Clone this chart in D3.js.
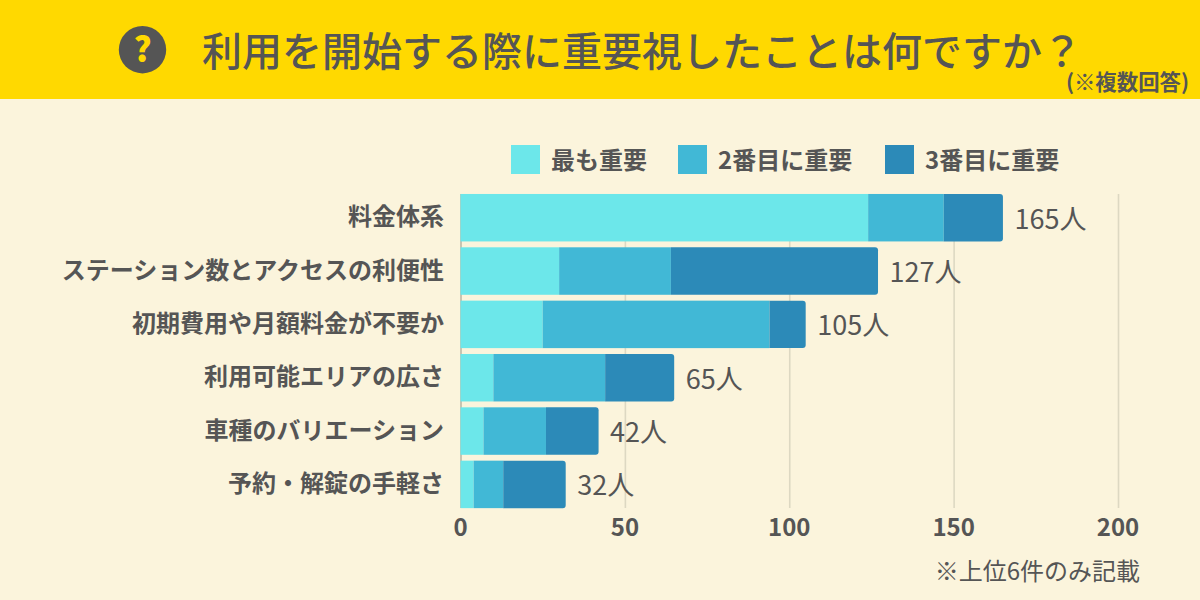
<!DOCTYPE html>
<html><head><meta charset="utf-8">
<script src="https://cdn.jsdelivr.net/npm/d3@7"></script>
<style>
html,body{margin:0;padding:0;background:#FBF4DC}
svg{display:block}
text{font-family:"Noto Sans CJK JP","Noto Sans",sans-serif;fill:#555555}
</style></head><body>
<svg id="c" width="1200" height="600"></svg>
<script>
const titleText = "利用を開始する際に重要視したことは何ですか？";
const subtitleText = "(※複数回答)";
const noteText = "※上位6件のみ記載";
const unit = "人";
const categories = ["料金体系","ステーション数とアクセスの利便性","初期費用や月額料金が不要か","利用可能エリアの広さ","車種のバリエーション","予約・解錠の手軽さ"];
const seriesNames = ["最も重要","2番目に重要","3番目に重要"];
const first = [124,30,25,10,7,4];
const second = [23,34,69,34,19,9];
const third = [18,63,11,21,16,19];
const colors = ["#6CE7EA","#41B8D6","#2C8AB8"];
const ticks = [0,50,100,150,200];

const svg = d3.select("#c");
svg.append("rect").attr("width",1200).attr("height",600).attr("fill","#FBF4DC");
svg.append("rect").attr("width",1200).attr("height",99).attr("fill","#FFD900");

// icon
svg.append("circle").attr("cx",142.5).attr("cy",49.7).attr("r",23.7).attr("fill","#555555");
svg.append("text").attr("x",142.5).attr("y",62).attr("text-anchor","middle")
  .attr("font-size",34).attr("font-weight",900).style("fill","#FFD900").text("?");

svg.append("text").attr("x",202).attr("y",66).attr("font-size",40).attr("font-weight",500).text(titleText);
svg.append("text").attr("x",1189).attr("y",90).attr("text-anchor","end")
  .attr("font-size",21.4).attr("font-weight",700).text(subtitleText);

const x = d3.scaleLinear().domain([0,200]).range([460.5,1118]);
const y = d3.scaleBand().domain(categories).range([191.3,510.8]).paddingInner(0.11).paddingOuter(0.05);

// grid
const gridG = svg.append("g").attr("transform","translate(0,508)")
  .call(d3.axisBottom(x).tickValues(ticks).tickSize(-314).tickPadding(11).tickFormat(d3.format("d")));
gridG.select(".domain").remove();
gridG.selectAll("line").attr("stroke",d=>d===0?"#A9A595":"#DDD8C2").attr("stroke-width",d=>d===0?1.2:1.6);
gridG.selectAll("text").attr("font-size",24).attr("font-weight",700).attr("dy","0.71em").attr("dx",-0.5);

// category labels
const yG = svg.append("g").attr("transform","translate(444,0)")
  .call(d3.axisLeft(y).tickSize(0).tickPadding(0));
yG.select(".domain").remove();
yG.selectAll("text").attr("font-size",24).attr("font-weight",700);

// bars
const rows = categories.map((c,i)=>({c,vals:[first[i],second[i],third[i]]}));
const r = 3;
rows.forEach(row=>{
  let cum=0;
  row.vals.forEach((v,k)=>{
    const x0=x(cum), x1=x(cum+v), t=y(row.c), b=t+y.bandwidth();
    cum+=v;
    if(k<2){
      svg.append("rect").attr("x",x0).attr("y",t).attr("width",x1-x0).attr("height",b-t).attr("fill",colors[k]);
    } else {
      const p=d3.path();
      p.moveTo(x0,t);p.lineTo(x1-r,t);p.arcTo(x1,t,x1,t+r,r);p.lineTo(x1,b-r);p.arcTo(x1,b,x1-r,b,r);p.lineTo(x0,b);p.closePath();
      svg.append("path").attr("d",p.toString()).attr("fill",colors[k]);
    }
  });
  svg.append("text").attr("x",x(cum)+11.5).attr("y",y(row.c)+y.bandwidth()/2+1.2)
    .attr("dy","0.36em").attr("font-size",27).attr("font-weight",400).text(cum+unit);
});

// legend
const legendX=[511,678,885];
const legendY=145;
seriesNames.forEach((n,i)=>{
  svg.append("rect").attr("x",legendX[i]).attr("y",legendY).attr("width",29).attr("height",29).attr("fill",colors[i]);
  svg.append("text").attr("x",legendX[i]+40).attr("y",169).attr("font-size",24).attr("font-weight",700).text(n);
});

svg.append("text").attr("x",1140).attr("y",580).attr("text-anchor","end").attr("font-size",24).text(noteText);
</script>
</body></html>
